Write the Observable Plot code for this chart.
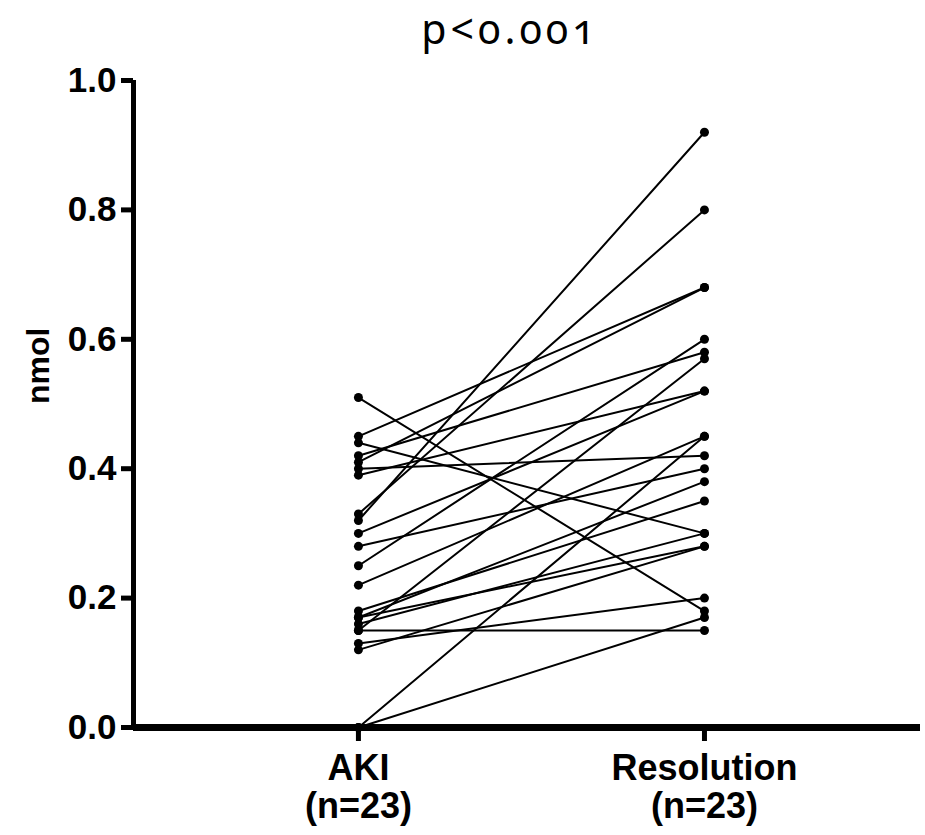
<!DOCTYPE html>
<html>
<head>
<meta charset="utf-8">
<script src="https://cdn.jsdelivr.net/npm/d3@7"></script>
<script src="https://cdn.jsdelivr.net/npm/@observablehq/plot@0.6"></script>
<style>
  html, body { margin: 0; padding: 0; background: #fff; }
  #title { height: 57px; line-height: normal; padding-top: 0; font-family: "Noto Sans", "Open Sans", sans-serif; font-variant-numeric: oldstyle-nums; font-feature-settings: "onum" 1; font-size: 41px; letter-spacing: 4px; color: #000; text-align: center; padding-left: 95px; width: 830px; overflow: visible; white-space: nowrap; }
</style>
</head>
<body>
<div id="title">p&lt;0.001</div>
<div id="chart"></div>
<script>
const groups = ["AKI", "Resolution"];
const groupLabels = ["AKI\n(n=23)", "Resolution\n(n=23)"];
const yTicks = [0, 0.2, 0.4, 0.6, 0.8, 1.0];
const yLabel = "nmol";
const akiValues =        [0.51, 0.45, 0.44, 0.42, 0.41, 0.40, 0.39, 0.33, 0.32, 0.30, 0.28, 0.25, 0.22, 0.18, 0.17, 0.17, 0.16, 0.15, 0.15, 0.13, 0.12, 0.00, 0.00];
const resolutionValues = [0.18, 0.68, 0.30, 0.58, 0.68, 0.42, 0.52, 0.80, 0.92, 0.52, 0.40, 0.60, 0.45, 0.35, 0.38, 0.28, 0.30, 0.57, 0.15, 0.20, 0.28, 0.45, 0.17];

const rows = [];
akiValues.forEach((v, i) => {
  rows.push({id: i, g: 0, v});
  rows.push({id: i, g: 1, v: resolutionValues[i]});
});
const xDomain = [-0.65, 1.6243];

const chart = Plot.plot({
  width: 925,
  height: 778,
  marginLeft: 133,
  marginRight: 5,
  marginTop: 23,
  marginBottom: 108,
  style: {fontFamily: "'Liberation Sans', Arial, sans-serif", fontWeight: "bold", color: "#000", background: "#fff"},
  x: {domain: xDomain},
  y: {domain: [0, 1]},
  marks: [
    Plot.axisY({ticks: yTicks, tickFormat: d3.format(".1f"), tickSize: 12, tickPadding: 5, strokeWidth: 5, label: null}),
    Plot.axisX({ticks: [0, 1], tickFormat: i => groupLabels[i], tickSize: 14, tickPadding: 12, strokeWidth: 5, lineHeight: 1.05, label: null}),
    Plot.text([yLabel], {frameAnchor: "left", rotate: -90, dx: -95, fontSize: 32, fontWeight: "bold", fill: "#000"}),
    Plot.line(rows, {x: "g", y: "v", z: "id", stroke: "#000", strokeWidth: 2}),
    Plot.dot(rows, {x: "g", y: "v", r: 4.5, fill: "#000"}),
    Plot.ruleY([0], {stroke: "#000", strokeWidth: 7}),
    Plot.ruleX([xDomain[0]], {y1: 0, y2: 1, stroke: "#000", strokeWidth: 5})
  ]
});
chart.querySelectorAll("g[aria-label='y-axis tick label']").forEach(el => { el.style.fontSize = "35px"; });
chart.querySelectorAll("g[aria-label='x-axis tick label']").forEach(el => { el.style.fontSize = "36px"; });
document.getElementById("chart").appendChild(chart);
</script>
</body>
</html>
